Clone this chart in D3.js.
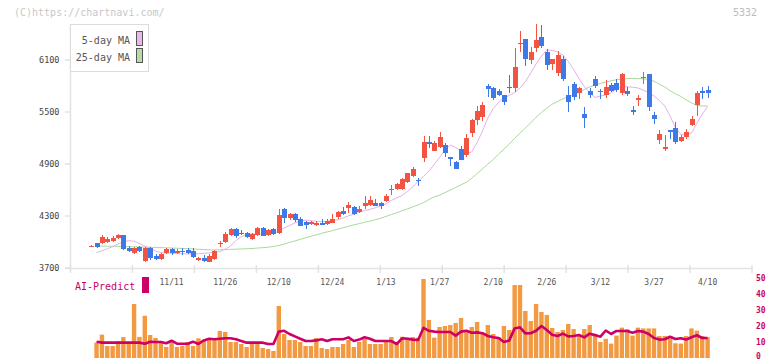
<!DOCTYPE html>
<html>
<head>
<meta charset="utf-8">
<script src="https://cdn.jsdelivr.net/npm/d3@7"></script>
<style>
  body { margin: 0; background: #fff; }
  text { font-family: "DejaVu Sans Mono", monospace; }
</style>
</head>
<body>
<div id="chart"></div>
<script>
(function(){

    // 日足データ (index 0 = 最初のローソク足)
    var open = [3950,3985,3985,4003,4015,4043,4081,3927,3870,3942,
        3781,3934,3835,3804,3870,3915,3877,3900,3908,3900,
        3792,3812,3773,3800,3980,4000,4081,4146,4108,4100,
        4031,4081,4165,4081,4146,4100,4377,4273,4319,4265,
        4231,4208,4200,4215,4208,4223,4285,4358,4389,4400,
        4342,4419,4427,4454,4454,4477,4608,4612,4615,4696,
        4762,4710,4966,5158,5054,5100,5119,4985,4927,5069,
        5004,5261,5408,5446,5800,5773,5742,5696,5785,5773,
        6285,6338,6100,6242,6369,6196,6050,5946,6112,5696,
        5823,5716,5477,5742,5881,5742,5696,5811,5838,5723,
        5746,5519,5638,5888,5938,5465,5177,5073,5292,5315,
        5169,5208,5350,5581,5742,5754];
    var high = [3960,3990,4081,4054,4066,4092,4085,3957,3946,3954,
        3946,3940,3862,3877,3927,3931,3915,3927,3935,3927,
        3830,3850,3860,3905,4011,4119,4160,4160,4135,4110,
        4100,4175,4170,4150,4160,4377,4396,4340,4330,4290,
        4240,4245,4245,4262,4270,4323,4358,4400,4465,4410,
        4420,4535,4535,4500,4465,4550,4658,4680,4735,4800,
        4870,4735,5223,5223,5170,5269,5140,4985,4930,5110,
        5246,5420,5565,5612,5823,5790,5770,5696,5927,6242,
        6434,6338,6250,6515,6504,6230,6108,6200,6150,5800,
        5850,5790,5561,5780,5915,5761,5869,5830,5880,5946,
        5790,5569,5696,5957,5938,5496,5292,5235,5292,5388,
        5230,5300,5458,5738,5788,5800];
    var low = [3945,3928,3977,3985,4000,4035,3905,3881,3858,3889,
        3773,3789,3792,3792,3862,3846,3865,3850,3862,3815,
        3780,3773,3765,3795,3946,3985,4070,4050,4085,4050,
        4020,4075,4065,4075,4085,4092,4223,4250,4230,4180,
        4154,4195,4180,4195,4200,4215,4270,4310,4340,4315,
        4335,4380,4415,4410,4380,4465,4542,4595,4605,4685,
        4755,4650,4927,5081,5045,5081,4980,4881,4846,4946,
        4985,5215,5350,5400,5677,5640,5680,5580,5723,5735,
        6196,6031,6050,6196,6240,5990,5990,5920,5860,5504,
        5640,5650,5319,5660,5780,5653,5661,5730,5730,5700,
        5680,5461,5569,5823,5515,5358,5131,5046,5185,5131,
        5150,5190,5335,5454,5650,5665];
    var close = [3955,3942,4061,4034,4043,4081,3920,3900,3934,3900,
        3934,3812,3804,3862,3915,3870,3900,3880,3877,3831,
        3819,3784,3842,3900,3990,4089,4146,4069,4092,4062,
        4092,4165,4073,4139,4092,4311,4273,4319,4254,4185,
        4200,4235,4215,4200,4246,4265,4346,4319,4427,4323,
        4381,4454,4485,4419,4420,4535,4616,4665,4727,4792,
        4838,4700,5157,5130,5139,5215,5031,4954,4846,4946,
        5204,5408,5512,5581,5769,5665,5696,5619,5775,6023,
        6300,6108,6196,6331,6261,6042,6108,6158,5881,5612,
        5677,5773,5435,5696,5804,5727,5792,5742,5754,5938,
        5707,5504,5665,5900,5561,5419,5246,5092,5273,5158,
        5208,5273,5415,5715,5723,5723];

    // 移動平均
    var ma5 = [null,3877,3900,3923,3946,3977,4003,4015,4009,3983,
        3954,3931,3894,3879,3873,3870,3866,3864,3862,3862,
        3864,3868,3875,3881,3888,3919,3954,4017,4063,4081,
        4092,4092,4092,4098,4104,4121,4162,4190,4219,4242,
        4252,4247,4240,4235,4238,4248,4257,4277,4302,4320,
        4346,4360,4376,4395,4415,4438,4479,4508,4537,4583,
        4635,4704,4756,4819,4894,4975,5062,5119,5091,5050,
        5016,5039,5148,5281,5431,5541,5610,5662,5691,5725,
        5777,5852,5950,6054,6146,6216,6210,6193,6158,6083,
        5991,5887,5794,5720,5668,5685,5696,5720,5766,5792,
        5791,5786,5777,5754,5725,5685,5633,5569,5454,5316,
        5241,5235,5258,5370,5477,5561];
    var ma25 = [null,3954,3953,3952,3951,3950,3948,3946,3945,3943,
        3941,3939,3937,3935,3933,3931,3928,3926,3923,3920,
        3916,3913,3910,3908,3910,3912,3915,3917,3920,3922,
        3925,3930,3935,3940,3948,3960,3975,3995,4012,4031,
        4048,4066,4083,4100,4116,4131,4148,4165,4180,4198,
        4212,4227,4242,4256,4275,4295,4317,4338,4360,4382,
        4405,4428,4455,4490,4520,4540,4570,4600,4630,4660,
        4690,4735,4790,4845,4900,4950,5015,5070,5130,5195,
        5255,5315,5375,5440,5495,5545,5590,5620,5650,5680,
        5700,5725,5760,5790,5812,5830,5845,5860,5872,5878,
        5885,5887,5885,5883,5878,5855,5820,5790,5745,5710,
        5680,5640,5605,5575,5570,5568];

    // 出来高とAI予測 (右軸 0-50)
    var volume = [null,9.6,14.6,7.5,7.5,10.6,13.1,9.5,33.75,13.2,
        26.4,14.4,12.5,10,6.9,10,6.9,7.5,10,7.5,
        12.3,11.25,11.25,11.7,16.9,16.25,10,10,8.75,6.9,
        8.75,8.75,6.25,5.6,4.4,32.5,15,11.25,11.25,10,
        7.5,7.5,12.5,6.25,5.6,6.9,6.9,8.75,11.25,6.9,
        10,11.9,8.75,8.75,8.75,10,13.1,9.4,13.3,12.7,
        13.1,12.7,49.4,23.75,12.7,19.4,20,20.6,21.9,25,
        17.5,19.4,22.5,15.6,20.6,15,13.1,20,17.5,45.6,
        45.6,29.4,23.1,33.75,28.75,26.9,18.75,16.25,17.5,21.25,
        18.1,13.75,18.1,20.6,15,10,12,9,14,19,
        18,14,19,18.5,18.5,18.5,13.75,13.75,12.3,9.2,
        9,13.75,18.5,17.1,13.75,13];
    var aiPredict = [null,10.2,9.6,9.6,9.6,9.6,9.6,9.6,9.6,9.6,
        8.9,10.2,10,10,9.2,10.8,9,8.9,8.9,10.2,
        8.75,11,12,11.7,12,12.3,12.3,11.7,10.6,9.6,
        9.6,9.6,9.6,8.75,8.75,16.5,17,15,13.5,12,
        10.6,10.6,11,11.7,10.6,11.7,11.7,11.7,12.9,10.6,
        11.5,13,12,10.6,10.6,10.6,10.6,8.75,12.3,12,
        11.5,11.25,18.9,17,16.5,16.25,16.25,16.25,14,16.5,
        17,15.8,16,15.5,13.75,13,12.5,10,11,18.5,
        19.2,15.4,15.5,17,20,17.5,14.5,13.75,15.2,13.5,
        13.8,14.4,12.9,15.2,14.3,13.3,17.2,15,16.9,16.9,
        16.9,15.8,16.9,16.5,15,12.5,11.5,11.7,13.3,11.9,
        12.3,11.5,13,14.2,12.5,12.5];

    var dateLabels = ["11/11","11/26","12/10","12/24","1/13","1/27","2/10","2/26","3/12","3/27","4/10"];
    var dateIndex  = [15,25,35,45,55,65,75,85,95,105,115];
    var priceTicks = [3700,4300,4900,5500,6100];
    var volTicks   = [0,10,20,30,40,50];

    var chart = {
        width: 772,
        height: 361,
        axisX: 70.5,
        axisTop: 24,
        axisBottom: 268.5,
        axisRight: 752,
        priceTop: 60,
        volTop: 278,
        volBottom: 358,
        body: 5,
        bar: 4.4
    };
    var upColor = "#f25343", downColor = "#3d7ae8";
    var gridColor = "#e2e2e2";

    var svg = d3.select("#chart")
        .append("svg")
        .attr("width", chart.width)
        .attr("height", chart.height);

    var idx = d3.range(close.length);

    var x = d3.scaleLinear()
        .domain([0, close.length - 1])
        .range([91.2, 707.6]);
    var y = d3.scaleLinear()
        .domain([3700, 6100])
        .range([chart.axisBottom - 0.5, chart.priceTop]);
    var yv = d3.scaleLinear()
        .domain([0, 50])
        .range([chart.volBottom, chart.volTop]);
    var gridX = d3.scaleLinear()
        .domain([0, 11])
        .range([chart.axisX, chart.axisRight]);

    /* 透かし文字 */
    svg.append("text")
        .attr("x", 14).attr("y", 16)
        .text("(C)https://chartnavi.com/")
        .style("font-size", "10px")
        .style("fill", "#c8c8c8");
    svg.append("text")
        .attr("x", 757).attr("y", 16)
        .attr("text-anchor", "end")
        .text("5332")
        .style("font-size", "10px")
        .style("fill", "#bdbdbd");

    /* 軸 */
    svg.append("line")
        .attr("x1", chart.axisX).attr("x2", chart.axisX)
        .attr("y1", chart.axisTop).attr("y2", chart.axisBottom)
        .style("stroke", gridColor).style("stroke-width", 1.5);
    svg.append("line")
        .attr("x1", 65).attr("x2", chart.axisRight)
        .attr("y1", chart.axisBottom).attr("y2", chart.axisBottom)
        .style("stroke", gridColor).style("stroke-width", 1.5);

    svg.selectAll("line.xtick")
        .data(d3.range(12))
        .enter().append("line")
        .attr("class", "xtick")
        .attr("x1", function(d){ return gridX(d); })
        .attr("x2", function(d){ return gridX(d); })
        .attr("y1", 265).attr("y2", 273)
        .style("stroke", gridColor).style("stroke-width", 1.5);

    var yt = svg.selectAll("g.ytick")
        .data(priceTicks)
        .enter().append("g")
        .attr("class", "ytick")
        .attr("transform", function(d){ return "translate(0," + Math.round(y(d)) + ")"; });
    yt.append("line")
        .attr("x1", 65).attr("x2", chart.axisX)
        .style("stroke", gridColor).style("stroke-width", 1.5);
    yt.append("text")
        .attr("x", 59.5)
        .attr("dy", "0.35em")
        .attr("text-anchor", "end")
        .text(function(d){ return d; })
        .style("font-size", "8.5px")
        .style("fill", "#444");

    /* 日付ラベル */
    svg.selectAll("text.date")
        .data(dateLabels)
        .enter().append("text")
        .attr("class", "date")
        .attr("x", function(d, i){ return x(dateIndex[i]); })
        .attr("y", 285)
        .attr("text-anchor", "middle")
        .text(function(d){ return d; })
        .style("font-size", "8px")
        .style("fill", "#555");

    /* 凡例 */
    svg.append("rect")
        .attr("x", 70.5).attr("y", 24.5)
        .attr("width", 78).attr("height", 47)
        .style("fill", "#fff").style("stroke", "#dcdcdc");
    var legend = [["5-day MA", "#ecb8ec", 31.5], ["25-day MA", "#b6dca6", 48.5]];
    legend.forEach(function(l){
        svg.append("text")
            .attr("x", 130).attr("y", l[2] + 12)
            .attr("text-anchor", "end")
            .text(l[0])
            .style("font-size", "10px")
            .style("fill", "#555");
        svg.append("rect")
            .attr("x", 136.5).attr("y", l[2])
            .attr("width", 6).attr("height", 14)
            .style("fill", l[1]).style("stroke", "#555");
    });

    /* 移動平均線 */
    var lineOf = function(arr, scale){
        return d3.line()
            .defined(function(i){ return arr[i] != null; })
            .x(function(i){ return x(i); })
            .y(function(i){ return scale(arr[i]); });
    };
    svg.append("path")
        .attr("d", lineOf(ma25, y)(idx))
        .style("fill", "none").style("stroke", "#aad99c").style("stroke-width", 1);
    svg.append("path")
        .attr("d", lineOf(ma5, y)(idx))
        .style("fill", "none").style("stroke", "#e6b0ea").style("stroke-width", 1);

    /* ローソク足 */
    var candle = svg.selectAll("g.candle")
        .data(idx)
        .enter().append("g")
        .attr("class", "candle")
        .style("shape-rendering", "crispEdges");
    candle.append("line")
        .attr("x1", function(i){ return Math.round(x(i)) + 0.5; })
        .attr("x2", function(i){ return Math.round(x(i)) + 0.5; })
        .attr("y1", function(i){ return y(high[i]); })
        .attr("y2", function(i){ return y(low[i]); })
        .style("stroke", function(i){ return close[i] >= open[i] ? upColor : downColor; })
        .style("stroke-width", 1);
    candle.append("rect")
        .attr("x", function(i){ return Math.round(x(i)) - 2; })
        .attr("width", chart.body)
        .attr("y", function(i){ return y(Math.max(open[i], close[i])); })
        .attr("height", function(i){ return Math.max(1, Math.abs(y(open[i]) - y(close[i]))); })
        .style("fill", function(i){ return close[i] >= open[i] ? upColor : downColor; });

    /* 出来高 */
    svg.selectAll("rect.vol")
        .data(idx.filter(function(i){ return volume[i] != null; }))
        .enter().append("rect")
        .attr("class", "vol")
        .attr("x", function(i){ return x(i) - chart.bar / 2; })
        .attr("width", chart.bar)
        .attr("y", function(i){ return yv(volume[i]); })
        .attr("height", function(i){ return chart.volBottom - yv(volume[i]); })
        .style("fill", "#f29a42");

    svg.append("path")
        .attr("d", lineOf(aiPredict, yv)(idx))
        .style("fill", "none")
        .style("stroke", "#cc0066")
        .style("stroke-width", 2.6)
        .style("stroke-linejoin", "round");

    /* 右軸ラベル */
    svg.selectAll("text.vtick")
        .data(volTicks)
        .enter().append("text")
        .attr("class", "vtick")
        .attr("x", 756)
        .attr("y", function(d){ return Math.min(yv(d) + 3, chart.height - 2); })
        .text(function(d){ return d; })
        .style("font-size", "8px")
        .style("font-weight", "bold")
        .style("fill", "#cc0066");

    /* AI-Predict 凡例 */
    svg.append("text")
        .attr("x", 75).attr("y", 289.5)
        .text("AI-Predict")
        .style("font-size", "10px")
        .style("fill", "#cc0066");
    svg.append("rect")
        .attr("x", 142).attr("y", 277)
        .attr("width", 7).attr("height", 16)
        .style("fill", "#cc0066");

})();
</script>
</body>
</html>
